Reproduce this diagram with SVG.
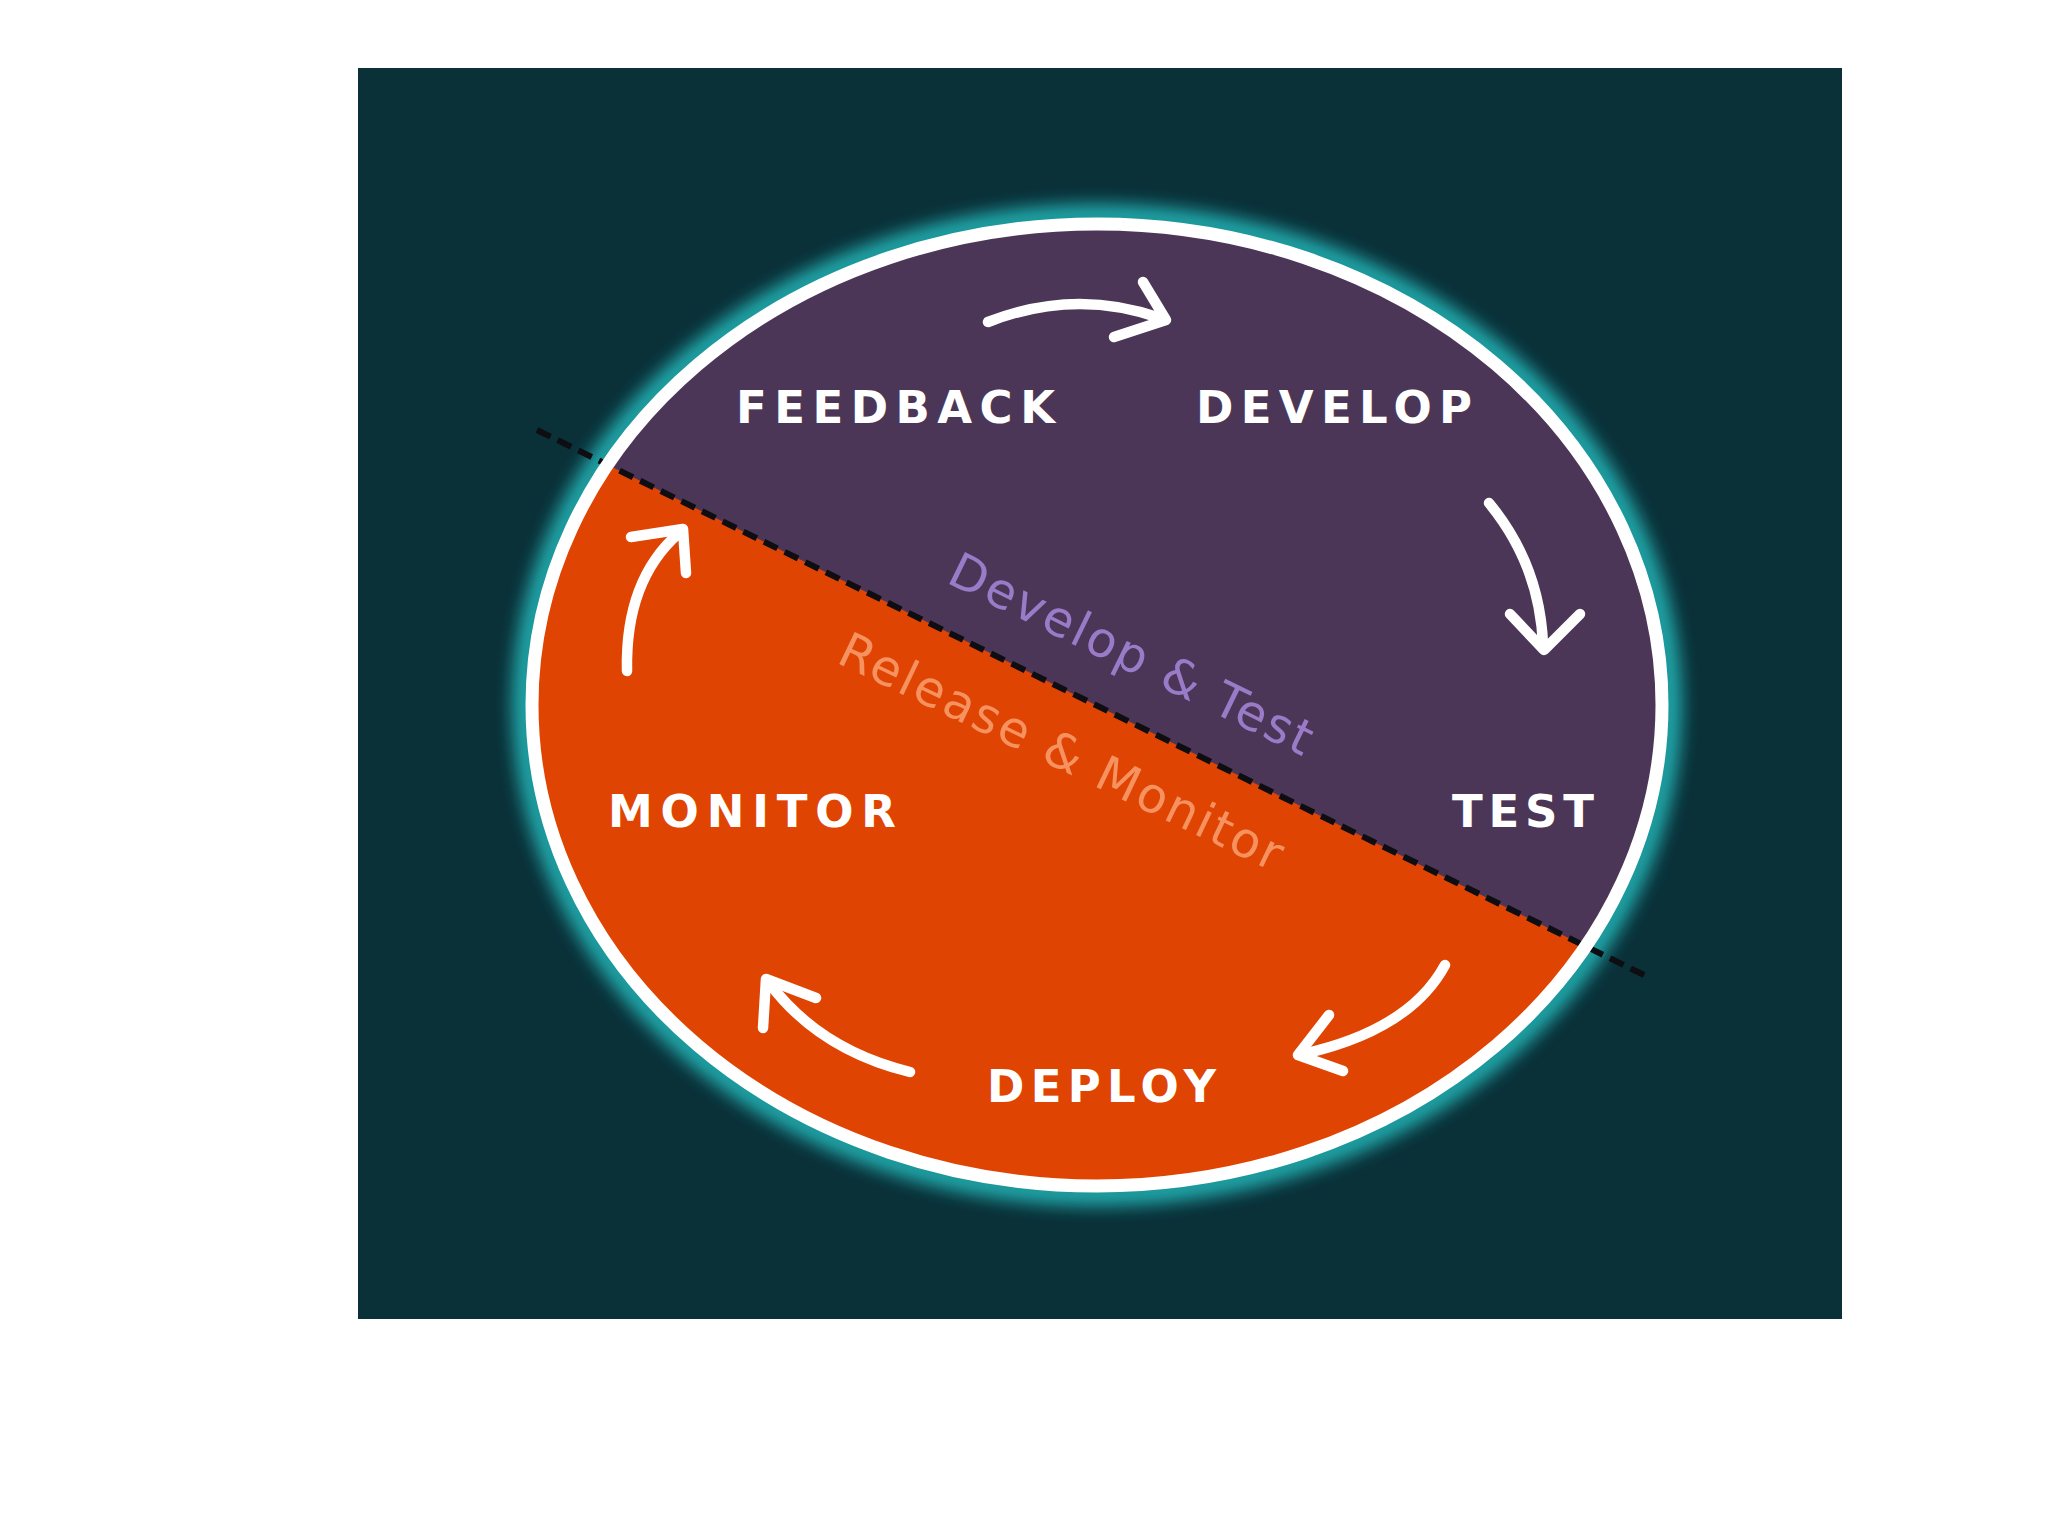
<svg xmlns="http://www.w3.org/2000/svg" width="2048" height="1536" viewBox="0 0 2048 1536">
<defs>
<style>
.lbl{font-family:"DejaVu Sans","Liberation Sans",Arial,sans-serif;font-weight:700;font-size:45px;fill:#ffffff}
.diag{font-family:"DejaVu Sans","Liberation Sans",sans-serif;font-weight:400;font-size:49px}
.arr{fill:none;stroke:#ffffff;stroke-width:10.5;stroke-linecap:round;stroke-linejoin:round}
</style>
<filter id="glow" x="-20%" y="-20%" width="140%" height="140%">
<feGaussianBlur stdDeviation="9"/>
</filter>
<clipPath id="ellClip">
<ellipse cx="1097" cy="705" rx="565" ry="481"/>
</clipPath>
</defs>
<rect x="0" y="0" width="2048" height="1536" fill="#ffffff"/>
<rect x="358" y="68" width="1484" height="1251" fill="#0a3038"/>
<g id="cycle">
<ellipse cx="1097" cy="705" rx="573" ry="489" fill="none" stroke="#22b3b5" stroke-width="22" filter="url(#glow)"/>
<ellipse cx="1097" cy="705" rx="565" ry="481" fill="#e04402"/>
<polygon points="400,362.6 1800,1051.8 1800,100 400,100" fill="#4b3657" clip-path="url(#ellClip)"/>
</g>
<g id="connectors">
<line x1="537" y1="430" x2="1646" y2="976" stroke="#0d0d12" stroke-width="6" stroke-dasharray="15 8"/>
<path class="arr" d="M988 322 Q1075 288 1160 318"/>
<path class="arr" d="M1143 282 L1166 320 L1114 337"/>
<path class="arr" d="M1489 503 Q1540 565 1543 645"/>
<path class="arr" d="M1510 614 L1544 650 L1580 614"/>
<path class="arr" d="M1445 965 Q1410 1030 1303 1054"/>
<path class="arr" d="M1329 1015 L1298 1055 L1343 1071"/>
<path class="arr" d="M910 1072 Q820 1050 770 984"/>
<path class="arr" d="M816 998 L766 979 L763 1028"/>
<path class="arr" d="M627 671 Q625 580 679 533"/>
<path class="arr" d="M631 537 L683 529 L686 573"/>
</g>
<ellipse cx="1097" cy="705" rx="565" ry="481" fill="none" stroke="#ffffff" stroke-width="13"/>
<g id="node-feedback"><text class="lbl" x="736" y="423" textLength="319" lengthAdjust="spacing">FEEDBACK</text></g>
<g id="node-develop"><text class="lbl" x="1196" y="423" textLength="276" lengthAdjust="spacing">DEVELOP</text></g>
<g id="node-test"><text class="lbl" x="1452" y="827" textLength="142" lengthAdjust="spacing">TEST</text></g>
<g id="node-deploy"><text class="lbl" x="987" y="1102" textLength="229" lengthAdjust="spacing">DEPLOY</text></g>
<g id="node-monitor"><text class="lbl" x="608" y="827" textLength="288" lengthAdjust="spacing">MONITOR</text></g>
<g id="label-develop-test"><text class="diag" fill="#9a7bc8" transform="translate(945 582) rotate(26)" textLength="398" lengthAdjust="spacing">Develop &amp; Test</text></g>
<g id="label-release-monitor"><text class="diag" fill="#f6925f" transform="translate(835 662) rotate(25.6)" textLength="486" lengthAdjust="spacing">Release &amp; Monitor</text></g>
</svg>
